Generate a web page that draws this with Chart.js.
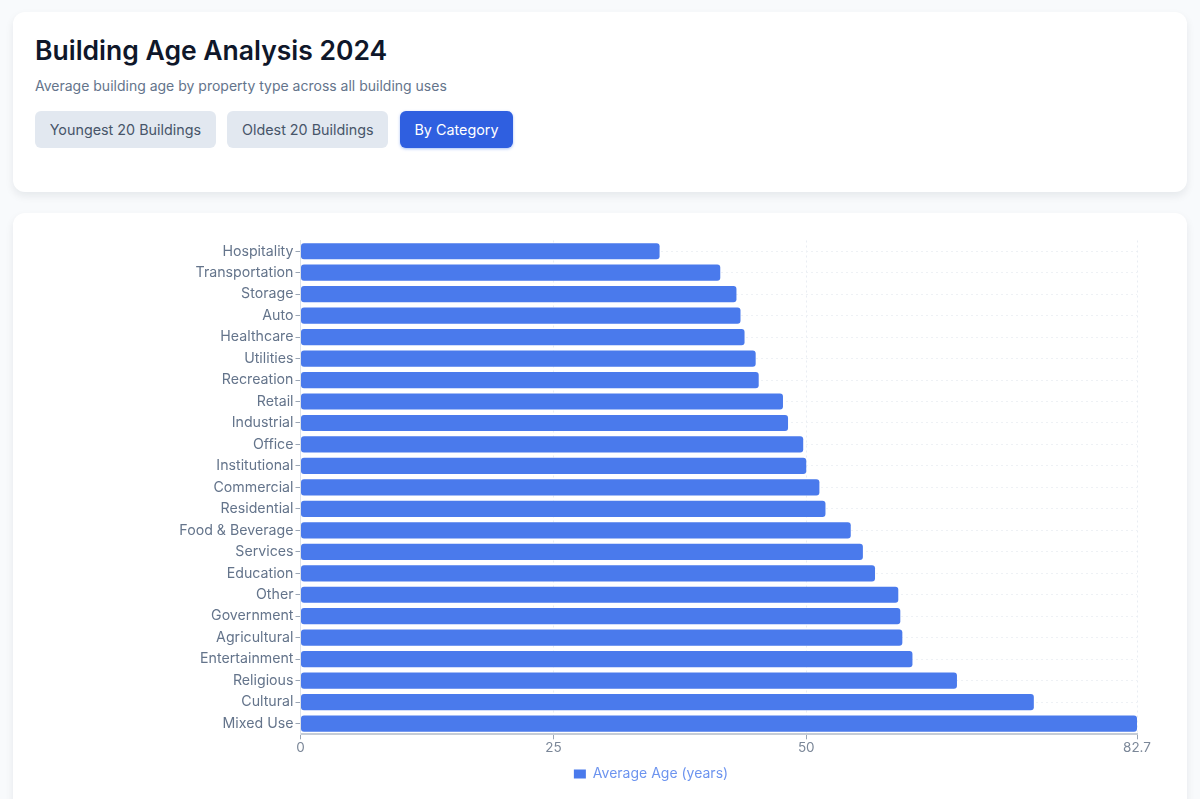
<!DOCTYPE html>
<html>
<head>
<meta charset="utf-8">
<title>Building Age Analysis 2024</title>
<script src="https://cdn.jsdelivr.net/npm/chart.js@4/dist/chart.umd.min.js"></script>
<style>
  * { box-sizing: border-box; }
  html, body { margin: 0; height: 799px; overflow: hidden; }
  body { background: #f8fafc; font-family: Inter, sans-serif; }
  .card { position: absolute; left: 13px; width: 1174px; background: #fff; border-radius: 12px; box-shadow: 0 4px 8px rgba(15,23,42,.08); }
  .header { top: 12px; height: 180px; padding: 22px; }
  h1 { margin: 0; font-size: 26.5px; line-height: 32px; font-weight: 600; color: #0f172a; }
  .sub { margin: 10px 0 0; font-size: 14px; line-height: 20px; color: #64748b; }
  .btns { display: flex; gap: 11.5px; margin-top: 15px; }
  .btn { height: 37px; padding: 0 14.7px; line-height: 37px; border-radius: 6px; font-size: 14.35px; font-weight: 400; background: #e2e8f0; color: #475569; }
  .btn.active { background: #2f5fe0; color: #fff; box-shadow: 0 1px 3px rgba(37,99,235,.4); }
  .chart-card { top: 213px; height: 620px; }
  .chart-wrap { position: absolute; left: 0; top: 0; width: 1174px; height: 578px; }
</style>
</head>
<body>
<div class="card header">
  <h1>Building Age Analysis 2024</h1>
  <p class="sub">Average building age by property type across all building uses</p>
  <div class="btns">
    <div class="btn">Youngest 20 Buildings</div>
    <div class="btn">Oldest 20 Buildings</div>
    <div class="btn active">By Category</div>
  </div>
</div>
<div class="card chart-card">
  <div class="chart-wrap"><canvas id="age-canvas"></canvas></div>
</div>
<script>
const categories = ['Hospitality', 'Transportation', 'Storage', 'Auto', 'Healthcare', 'Utilities', 'Recreation',
  'Retail', 'Industrial', 'Office', 'Institutional', 'Commercial', 'Residential', 'Food & Beverage', 'Services',
  'Education', 'Other', 'Government', 'Agricultural', 'Entertainment', 'Religious', 'Cultural', 'Mixed Use'];
const avgAge = [35.5, 41.5, 43.1, 43.5, 43.9, 45.0, 45.3, 47.7, 48.2, 49.7, 50.0, 51.3, 51.9, 54.4, 55.6, 56.8,
  59.1, 59.3, 59.5, 60.5, 64.9, 72.5, 82.7];
const xTicks = [0, 25, 50, 82.7];
const seriesName = 'Average Age (years)';

new Chart(document.getElementById('age-canvas'), {
  type: 'bar',
  data: {
    labels: categories,
    datasets: [{
      label: seriesName,
      data: avgAge,
      backgroundColor: '#4a7aec',
      borderWidth: 0,
      borderRadius: 3,
      borderSkipped: false,
      barPercentage: 0.92,
      categoryPercentage: 0.82,
    }],
  },
  options: {
    indexAxis: 'y',
    responsive: true,
    maintainAspectRatio: false,
    animation: false,
    layout: { padding: { left: 152, right: 50, top: 27.5, bottom: 0 } },
    plugins: {
      legend: {
        position: 'bottom',
        labels: {
          color: '#6d94ef',
          font: { family: 'Inter', size: 14 },
          boxWidth: 12,
          boxHeight: 9,
          padding: 9.5,
        },
      },
    },
    scales: {
      x: {
        min: 0,
        max: 82.7,
        afterBuildTicks: axis => { axis.ticks = xTicks.map(v => ({ value: v })); },
        ticks: { color: '#7b8798', font: { family: 'Inter', size: 13.5 }, autoSkip: false, maxRotation: 0, padding: 1 },
        grid: { color: '#e9edf3', tickColor: '#9aa5b4', tickLength: 5, drawTicks: true },
        border: { color: '#c5ccd6', width: 2, dash: [2, 3] },
      },
      y: {
        afterFit: axis => { axis.width = 135.5; },
        ticks: { color: '#64748b', font: { family: 'Inter', size: 14.2 }, autoSkip: false, padding: 2 },
        grid: { offset: false, color: '#eef1f5', tickColor: '#9aa5b4', tickLength: 5 },
        border: { color: '#dde2e9', dash: [2, 3] },
      },
    },
  },
});
</script>
</body>
</html>
